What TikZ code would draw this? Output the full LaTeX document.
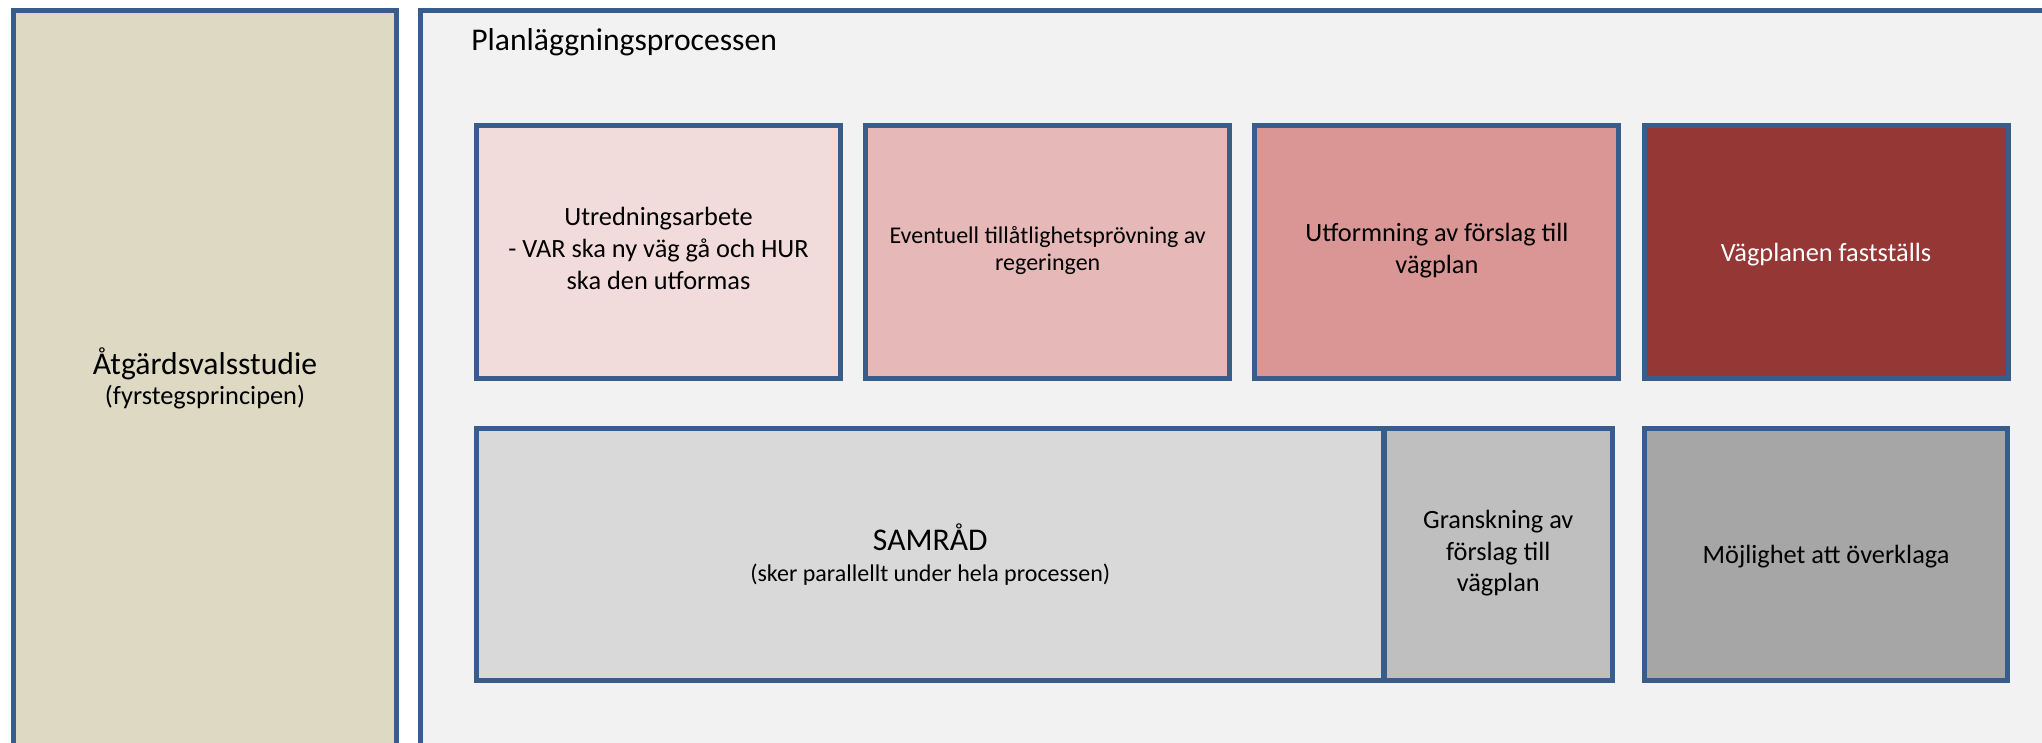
\documentclass[tikz,border=0pt]{standalone}
\usepackage{fontspec}
\setmainfont{Carlito}
\tikzset{>=stealth}
\definecolor{frameblue}{RGB}{56,93,138}
\definecolor{avsbeige}{RGB}{221,217,195}
\definecolor{planbg}{RGB}{242,242,242}
\definecolor{stepone}{RGB}{242,220,219}
\definecolor{steptwo}{RGB}{230,185,184}
\definecolor{stepthree}{RGB}{217,150,148}
\definecolor{stepfour}{RGB}{149,55,53}
\definecolor{samradgray}{RGB}{217,217,217}
\definecolor{granskgray}{RGB}{191,191,191}
\definecolor{overklgray}{RGB}{166,166,166}
\newcommand{\txtmain}{\fontsize{15}{18.2}\selectfont}
\newcommand{\txtlarge}{\fontsize{18}{21.6}\selectfont}
\newcommand{\txtsmall}{\fontsize{13.66}{15.4}\selectfont}
\newcommand{\linestrut}{\rule[-0.269em]{0pt}{1.221em}}
\tikzset{
  frame/.style={draw=frameblue, line width=2.9pt, rectangle, inner sep=0pt, align=center,
    execute at begin node=\linestrut, execute at end node=\linestrut},
  stepbox/.style={frame, minimum width=7.28cm, minimum height=5.06cm, font=\txtmain},
  lowbox/.style={frame, minimum height=5.04cm, font=\txtmain}
}

\begin{document}
\begin{tikzpicture}[x=0.02cm,y=-0.02cm]
\useasboundingbox (0,0) rectangle (2042,743);
\clip (0,0) rectangle (2042,743);
% left and right frames
\node[frame, fill=avsbeige, minimum width=7.66cm, minimum height=14.7cm, font=\fontsize{15}{17.5}\selectfont] (avs) at (205,378)
  {{\txtlarge\linestrut Åtgärdsvalsstudie}\\(fyrstegsprincipen)};
\node[frame, fill=planbg, minimum width=32.79cm, minimum height=14.7cm] (plan) at (1240.25,378) {};
\node[anchor=base west, inner sep=0pt, font=\txtlarge] (plantitle) at (471,50.7) {Planläggningsprocessen};
% upper row
\node[stepbox, fill=stepone] (utredning) at (658.5,252)
  {Utredningsarbete\\- VAR ska ny väg gå och HUR\\ska den utformas};
\node[stepbox, fill=steptwo, font=\txtsmall] (tillat) at (1047.7,252)
  {Eventuell tillåtlighetsprövning av\\regeringen};
\node[stepbox, fill=stepthree] (utformning) at (1436.9,252)
  {Utformning av förslag till\\vägplan};
\node[stepbox, fill=stepfour, text=white] (faststall) at (1826.1,252)
  {Vägplanen fastställs};
% lower row
\node[lowbox, fill=samradgray, minimum width=18.15cm, font=\fontsize{13.66}{17.6}\selectfont] (samrad) at (930.25,554.5)
  {{\txtlarge\linestrut SAMRÅD}\\(sker parallellt under hela processen)};
\node[lowbox, fill=granskgray, minimum width=4.57cm, font=\fontsize{15}{17.9}\selectfont] (granskning) at (1498.25,554.5)
  {Granskning av\\förslag till\\vägplan};
\node[lowbox, fill=overklgray, minimum width=7.26cm] (overklaga) at (1826,554.5)
  {Möjlighet att överklaga};
\end{tikzpicture}
\end{document}
